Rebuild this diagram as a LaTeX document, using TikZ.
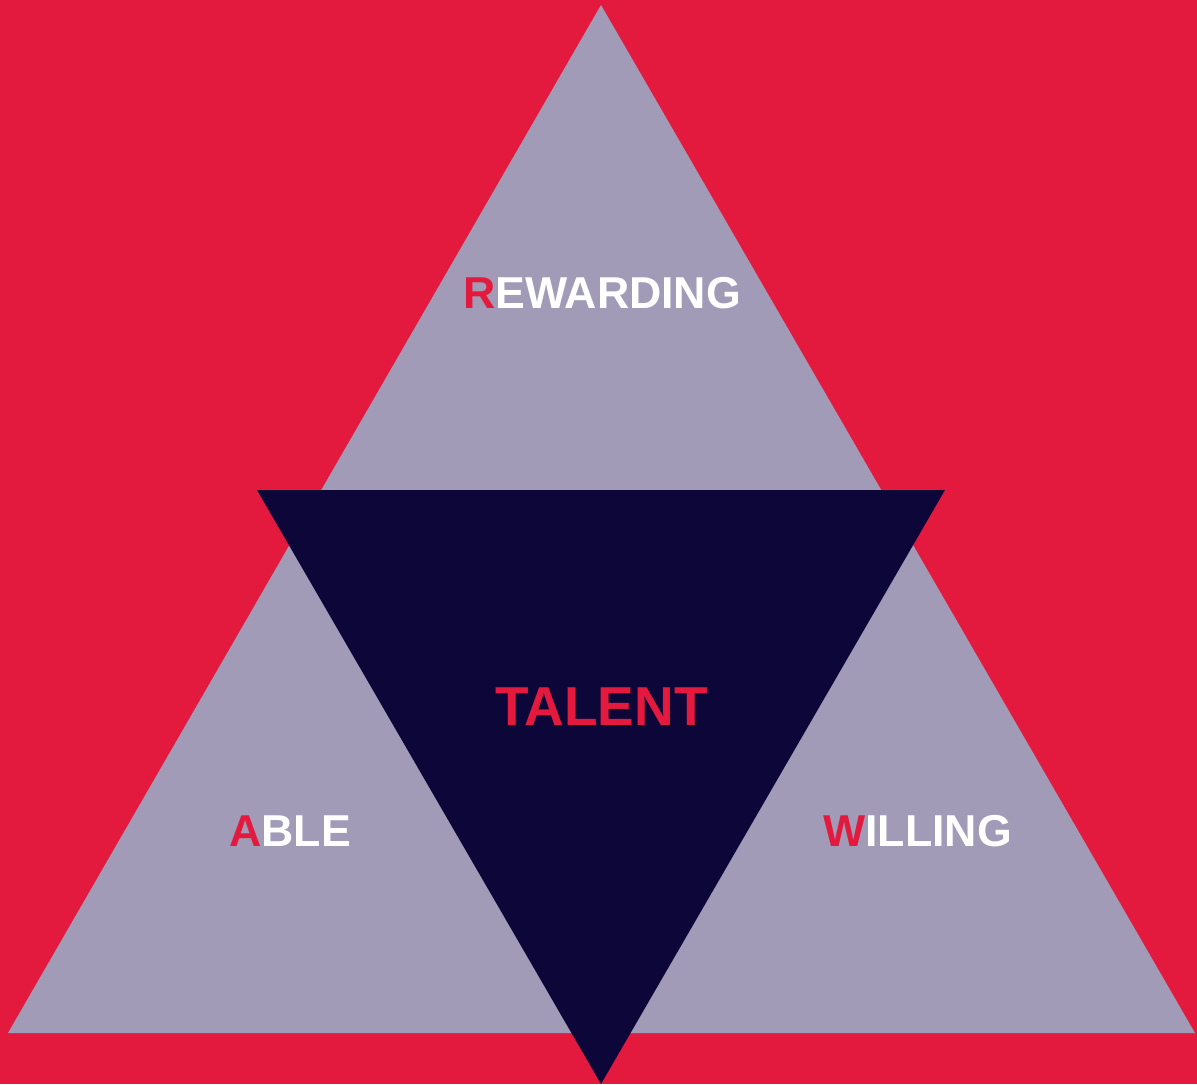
\documentclass[tikz,border=0pt]{standalone}
\usepackage{fontspec}
\setmainfont{Liberation Sans}
\usepackage{tikz}
\usetikzlibrary{calc,positioning}
\definecolor{talentred}{RGB}{227,26,62}
\definecolor{lilac}{RGB}{161,155,184}
\definecolor{navy}{RGB}{13,7,57}

\begin{document}
\begin{tikzpicture}[x=0.01cm,y=-0.01cm,
    word/.style={inner sep=0pt,text=white,font=\fontsize{12.7}{14}\selectfont\bfseries},
    big/.style={inner sep=0pt,text=talentred,font=\fontsize{15.6}{18}\selectfont\bfseries}]
            \fill[talentred] (0,0) rectangle (1197,1084);
            \useasboundingbox (0,0) rectangle (1197,1084);
            \fill[lilac] (601,5) -- (1195,1033) -- (8,1033) -- cycle;
            \fill[navy] (257,490) -- (945,490) -- (601,1084) -- cycle;
            \node[word] (rewarding) at (602,293) {\textcolor{talentred}{R}EWARDING};
            \node[big] (talent) at (601.5,707) {TALENT};
            \node[word] (able) at (290,831) {\textcolor{talentred}{A}BLE};
            \node[word] (willing) at (917.5,831) {\textcolor{talentred}{W}ILLING};
    \end{tikzpicture}
\end{document}
